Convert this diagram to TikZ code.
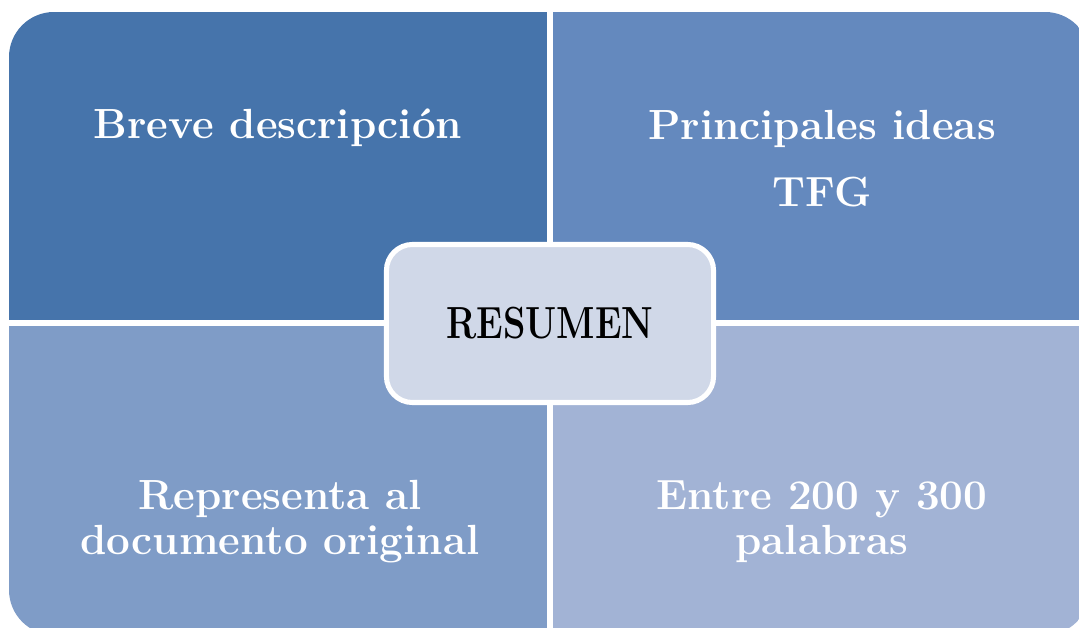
\documentclass[tikz,border=0pt]{standalone}
\usepackage{graphicx}
\definecolor{tlblue}{HTML}{4674AB}
\definecolor{trblue}{HTML}{6489BE}
\definecolor{blblue}{HTML}{7F9CC7}
\definecolor{brblue}{HTML}{A2B3D5}
\definecolor{midblue}{HTML}{D0D8E8}
\begin{document}
\begin{tikzpicture}[x=0.025cm, y=-0.025cm,
  quad/.style = {text=white, align=center, anchor=base, inner sep=0pt,
    font=\bfseries\fontsize{30}{32.7}\selectfont},
  core/.style = {draw=white, line width=3.6pt, fill=midblue, rounded corners=0.65cm,
    minimum width=8.175cm, minimum height=3.95cm, inner sep=0pt,
    font=\bfseries\fontsize{32}{36}\selectfont}]
\clip (0,0) rectangle (1079,628);

% four quadrants
\begin{scope}
\clip[rounded corners=1.125cm] (9,12) rectangle (1090,635);
\fill[tlblue] (9,12) rectangle (547,320);
\fill[trblue] (553,12) rectangle (1090,320);
\fill[blblue] (9,326) rectangle (547,635);
\fill[brblue] (553,326) rectangle (1090,635);
\end{scope}

% base = last line
\node[quad] (desc) at (278,139) {Breve descripción};
\node[quad] (ideas) at (822,207) {Principales ideas\\[15pt]TFG};
\node[quad] (repr) at (280,555) {Representa al\\documento original};
\node[quad] (words) at (822,555) {Entre 200 y 300\\palabras};

% centre
\node[core] (resumen) at (550,323.5) {\scalebox{0.8}[1]{RESUMEN}};
\end{tikzpicture}
\end{document}
